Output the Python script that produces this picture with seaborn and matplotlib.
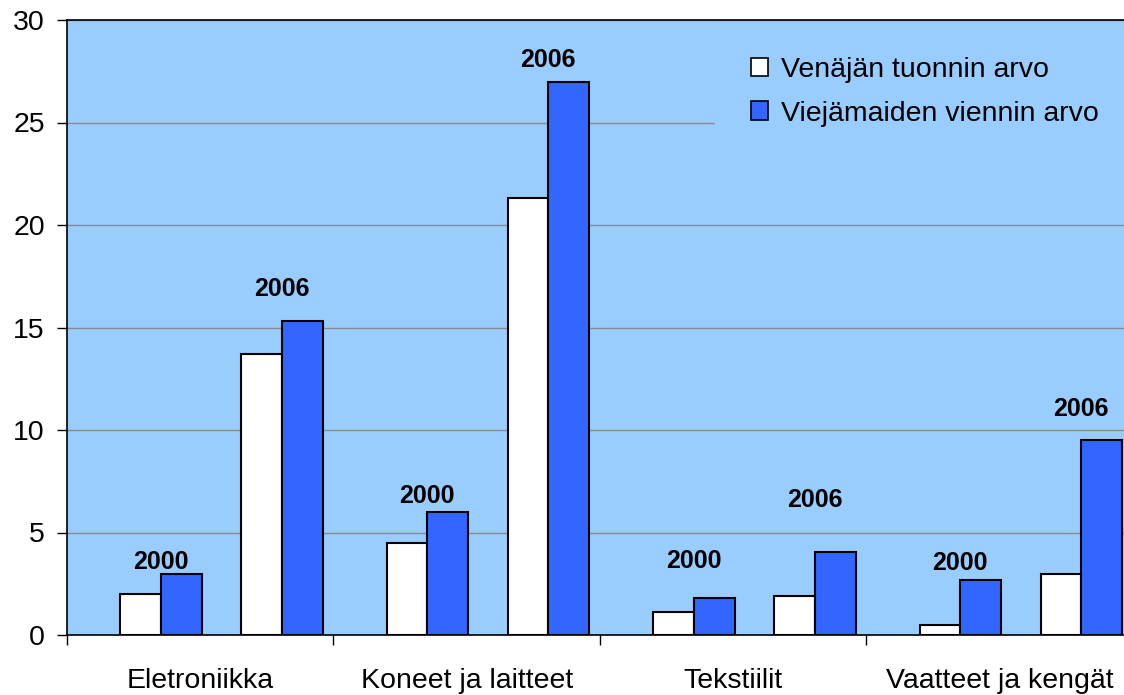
import matplotlib
matplotlib.use("Agg")
import matplotlib.pyplot as plt
from matplotlib.patches import Patch
import seaborn as sns
import pandas as pd

categories = ["Eletroniikka", "Koneet ja laitteet", "Tekstiilit", "Vaatteet ja kengät"]
years = ["2000", "2006"]
series = ["Venäjän tuonnin arvo", "Viejämaiden viennin arvo"]
# values per category: [2000, 2006]
import_values = [[2.0, 13.7], [4.5, 21.3], [1.1, 1.9], [0.5, 3.0]]
export_values = [[3.0, 15.3], [6.0, 27.0], [1.8, 4.05], [2.7, 9.5]]
# heights of the year labels above each pair of bars
year_label_y = [[3.55, 16.9], [6.8, 28.05], [3.6, 6.6], [3.5, 11.0]]

colors = {series[0]: "#FFFFFF", series[1]: "#3366FF"}
bg = "#99CCFF"
bar_w = 0.153
pair_left = [0.199, 0.653]

rows = []
for i, cat in enumerate(categories):
    for j, yr in enumerate(years):
        left = i + pair_left[j]
        rows.append(dict(x=left + bar_w / 2, value=import_values[i][j], series=series[0]))
        rows.append(dict(x=left + 1.5 * bar_w, value=export_values[i][j], series=series[1]))
df = pd.DataFrame(rows)

sns.set_style("white")
plt.rcParams["font.family"] = ["Liberation Sans", "DejaVu Sans"]
plt.rcParams["text.color"] = "black"
plt.rcParams["xtick.labelcolor"] = "black"
plt.rcParams["ytick.labelcolor"] = "black"

fig = plt.figure(figsize=(11.24, 6.95), dpi=100)
W, H = 1124, 695
ax = fig.add_axes([67 / W, (H - 635) / H, (1133 - 67) / W, (635 - 20) / H])
ax.set_facecolor(bg)

sns.barplot(data=df, x="x", y="value", hue="series", palette=colors,
            native_scale=True, width=1.0, saturation=1, errorbar=None,
            edgecolor="black", linewidth=1.5, legend=False, ax=ax)

ax.set_xlim(0, 4)
ax.set_ylim(0, 30)
ax.set_yticks(range(0, 31, 5))
ax.yaxis.grid(True, color="#8c8c8c", linewidth=1)
ax.set_axisbelow(True)
for s in ax.spines.values():
    s.set_color("black")
    s.set_linewidth(1.2)

ax.tick_params(axis="y", which="major", direction="out", length=7, width=1,
               color="black", labelsize=20.5, pad=9, left=True)
ax.set_xticks(range(0, 5))
ax.set_xticklabels([])
ax.tick_params(axis="x", which="major", direction="out", length=7, width=1,
               color="black", bottom=True)
ax.set_xticks([i + 0.5 for i in range(len(categories))], minor=True)
ax.set_xticklabels(categories, minor=True)
ax.tick_params(axis="x", which="minor", length=0, labelsize=20.5, pad=24)
ax.set_xlabel("")
ax.set_ylabel("")

for i in range(len(categories)):
    for j, yr in enumerate(years):
        cx = i + pair_left[j] + bar_w
        ax.text(cx, year_label_y[i][j], yr, ha="center", va="center",
                fontsize=18, fontweight="bold", color="black")

handles = [Patch(facecolor=colors[s], edgecolor="black", linewidth=1.2, label=s) for s in series]
leg = ax.legend(handles=handles, loc="upper left", bbox_to_anchor=(0.608, 0.997),
                fontsize=20.5, frameon=True, facecolor=bg, edgecolor=bg, framealpha=1,
                fancybox=False, handlelength=0.6, handleheight=0.6, handletextpad=0.45,
                labelspacing=0.6, borderpad=1.25, borderaxespad=0)

fig.savefig("out.png", dpi=100, facecolor="white")
